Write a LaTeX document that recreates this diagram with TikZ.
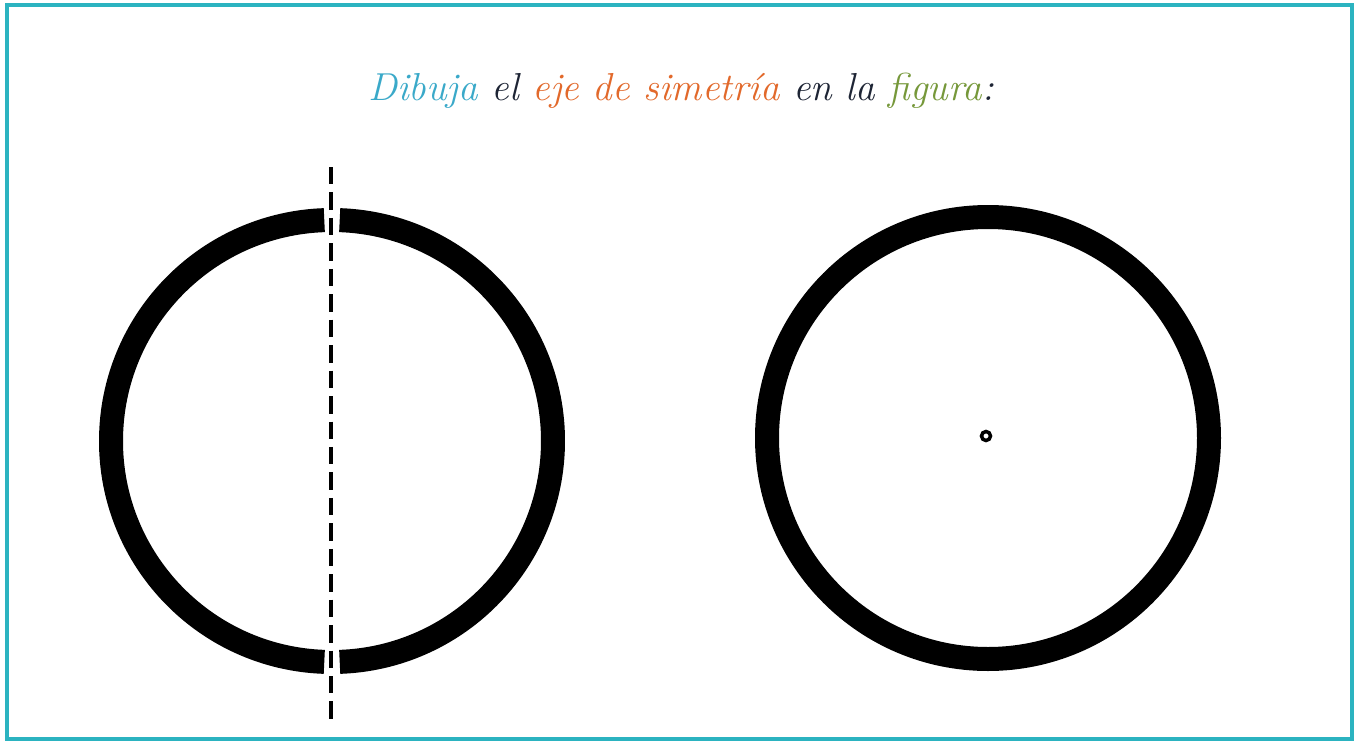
\documentclass[tikz,border=0pt]{standalone}
\usepackage{xcolor}
\definecolor{frame}{HTML}{2BB3C0}
\definecolor{tblue}{HTML}{3AA9C9}
\definecolor{tdark}{HTML}{1E2535}
\definecolor{torange}{HTML}{E2692B}
\definecolor{tgreen}{HTML}{76983A}
\tikzset{
  ring/.style={draw=black, line width=24pt, line cap=butt},
  axisline/.style={draw=black, line width=3.5pt, dash pattern=on 17.45pt off 8pt},
  framebox/.style={draw=frame, line width=4pt},
  titletext/.style={font=\fontsize{39}{44}\selectfont\itshape, anchor=base}
}
\begin{document}
\begin{tikzpicture}[x=1pt,y=-1pt]
\useasboundingbox (0,0) rectangle (1361,742);
\fill[white] (0,0) rectangle (1361,742);
\draw[framebox] (7,5) rectangle (1352,739);
\node[titletext] (title) at (681,100) {\textcolor{tblue}{Dibuja} \textcolor{tdark}{el} \textcolor{torange}{eje de simetría} \textcolor{tdark}{en la} \textcolor{tgreen}{figura}\textcolor{tdark}{:}};
% left circle with gaps
\coordinate (lc) at (332,441);
\draw[ring] (lc) ++(92:221) arc[start angle=92, end angle=268, radius=221];
\draw[ring] (lc) ++(-88:221) arc[start angle=-88, end angle=88, radius=221];
\coordinate (axtop) at (331,167);
\coordinate (axbot) at (331,719);
\draw[axisline] (axtop) -- (axbot);
% right circle
\coordinate (rc) at (988,438);
\draw[ring] (rc) circle[radius=221];
\draw[black, line width=3.5pt] (986,436) circle[radius=4.5];
\end{tikzpicture}
\end{document}
